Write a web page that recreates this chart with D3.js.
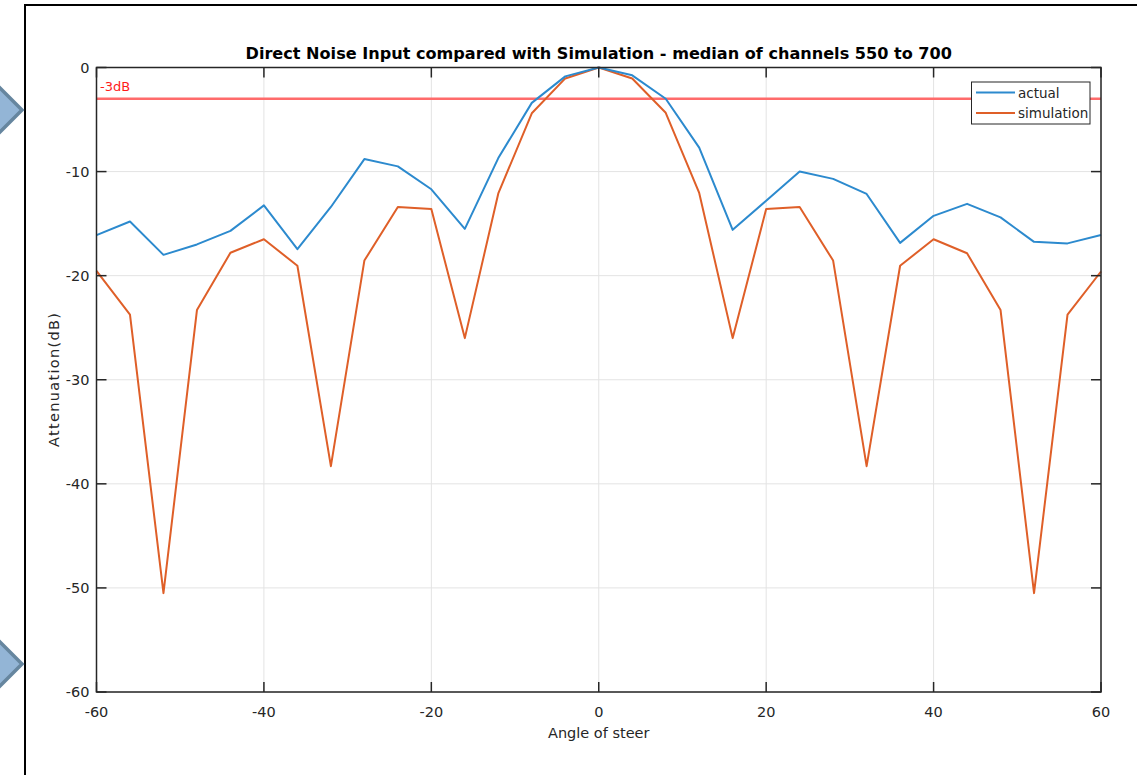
<!DOCTYPE html>
<html>
<head>
<meta charset="utf-8">
<script src="https://cdn.jsdelivr.net/npm/d3@7"></script>
<style>
  html, body { margin: 0; padding: 0; background: #fff; }
  svg { display: block; font-family: "DejaVu Sans", sans-serif; }
</style>
</head>
<body>
<svg id="chart" width="1137" height="775"></svg>
<script>
// steering angles (deg)
const angles = [-60, -56, -52, -48, -44, -40, -36, -32, -28, -24, -20, -16, -12, -8, -4, 0,
                4, 8, 12, 16, 20, 24, 28, 32, 36, 40, 44, 48, 52, 56, 60];
// measured attenuation (dB)
const actual = [-16.1, -14.8, -18.0, -17.0, -15.7, -13.25, -17.45, -13.4, -8.8, -9.5, -11.7, -15.5, -8.7, -3.4, -0.85, 0,
                -0.75, -3.0, -7.7, -15.6, -12.8, -10.0, -10.7, -12.15, -16.85, -14.25, -13.1, -14.4, -16.75, -16.9, -16.1];
// simulated attenuation (dB)
const simulation = [-19.55, -23.75, -50.5, -23.3, -17.8, -16.5, -19.05, -38.3, -18.55, -13.4, -13.6, -26.0, -12.1, -4.4, -1.05, 0,
                    -1.05, -4.35, -12.05, -26.0, -13.6, -13.4, -18.55, -38.3, -19.05, -16.5, -17.85, -23.3, -50.5, -23.75, -19.6];
const xTicks = [-60, -40, -20, 0, 20, 40, 60];
const yTicks = [0, -10, -20, -30, -40, -50, -60];
const refLevel = -3;

const svg = d3.select("#chart");
const pL = 96.5, pR = 1101, pT = 67.5, pB = 692;
const axisColor = "#262626";

// page frame + slide arrows
svg.append("path")
  .attr("d", `M25,775 V5 H1137`)
  .attr("fill", "none").attr("stroke", "#000").attr("stroke-width", 2);

[[110, 22], [664, 24]].forEach(([cy, r]) => {
  const cx = 22 - r;
  svg.append("polygon")
    .attr("points", `${cx},${cy - r} ${cx + r},${cy} ${cx},${cy + r} ${cx - r},${cy}`)
    .attr("fill", "#93b5d6").attr("stroke", "#66869f").attr("stroke-width", 3.5);
});

const x = d3.scaleLinear().domain([-60, 60]).range([pL, pR]);
const y = d3.scaleLinear().domain([-60, 0]).range([pB, pT]);

// grid
const grid = svg.append("g");
grid.selectAll("line.gx").data(xTicks).enter().append("line")
  .attr("x1", d => x(d)).attr("x2", d => x(d))
  .attr("y1", pT).attr("y2", pB)
  .attr("stroke", "#e3e3e3").attr("stroke-width", 1);
grid.selectAll("line.gy").data(yTicks).enter().append("line")
  .attr("x1", pL).attr("x2", pR)
  .attr("y1", d => y(d)).attr("y2", d => y(d))
  .attr("stroke", "#e3e3e3").attr("stroke-width", 1);

// -3 dB reference
svg.append("line")
  .attr("x1", pL).attr("x2", pR)
  .attr("y1", y(refLevel)).attr("y2", y(refLevel))
  .attr("stroke", "#ff6b6b").attr("stroke-width", 2.5);
svg.append("text")
  .attr("x", 100).attr("y", 91)
  .attr("fill", "#ff1a1a").style("font-size", "13px")
  .text("-3dB");

// series
const line = d3.line().x((d, i) => x(angles[i])).y(d => y(d));
svg.append("path").datum(simulation)
  .attr("d", line).attr("fill", "none")
  .attr("stroke", "#df5f28").attr("stroke-width", 2).attr("stroke-linejoin", "round");
svg.append("path").datum(actual)
  .attr("d", line).attr("fill", "none")
  .attr("stroke", "#2c8ace").attr("stroke-width", 2).attr("stroke-linejoin", "round");

// box + ticks
svg.append("rect")
  .attr("x", pL).attr("y", pT)
  .attr("width", pR - pL).attr("height", pB - pT)
  .attr("fill", "none").attr("stroke", axisColor).attr("stroke-width", 1.5);

const tl = 10;
const ticks = svg.append("g").attr("stroke", axisColor).attr("stroke-width", 1.5);
xTicks.forEach(t => {
  ticks.append("line").attr("x1", x(t)).attr("x2", x(t)).attr("y1", pB).attr("y2", pB - tl);
  ticks.append("line").attr("x1", x(t)).attr("x2", x(t)).attr("y1", pT).attr("y2", pT + tl);
});
yTicks.forEach(t => {
  ticks.append("line").attr("x1", pL).attr("x2", pL + tl).attr("y1", y(t)).attr("y2", y(t));
  ticks.append("line").attr("x1", pR).attr("x2", pR - tl).attr("y1", y(t)).attr("y2", y(t));
});

svg.selectAll("text.xt").data(xTicks).enter().append("text")
  .attr("class", "xt")
  .attr("x", d => x(d)).attr("y", 717)
  .attr("text-anchor", "middle").attr("fill", axisColor)
  .style("font-size", "14.5px").text(d => d);
svg.selectAll("text.yt").data(yTicks).enter().append("text")
  .attr("class", "yt")
  .attr("x", 89.5).attr("y", d => y(d) + 5)
  .attr("text-anchor", "end").attr("fill", axisColor)
  .style("font-size", "14.5px").text(d => d);

// labels
svg.append("text")
  .attr("x", x(0)).attr("y", 738)
  .attr("text-anchor", "middle").attr("fill", axisColor)
  .style("font-size", "14.5px").text("Angle of steer");
svg.append("text")
  .attr("transform", `translate(59, 380) rotate(-90)`)
  .attr("text-anchor", "middle").attr("fill", axisColor)
  .attr("textLength", 134).attr("lengthAdjust", "spacing")
  .style("font-size", "14.5px").text("Attenuation(dB)");
svg.append("text")
  .attr("x", x(0)).attr("y", 59)
  .attr("text-anchor", "middle").attr("fill", "#000")
  .style("font-size", "16.1px").style("font-weight", "bold")
  .text("Direct Noise Input compared with Simulation - median of channels 550 to 700");

// legend
const legend = svg.append("g");
legend.append("rect")
  .attr("x", 971.5).attr("y", 82).attr("width", 118.5).attr("height", 42)
  .attr("fill", "#fff").attr("stroke", axisColor).attr("stroke-width", 1);
[["actual", "#2c8ace"], ["simulation", "#df5f28"]].forEach(([name, c], i) => {
  const ly = 92.5 + i * 20.5;
  legend.append("line").attr("x1", 976).attr("x2", 1015).attr("y1", ly).attr("y2", ly)
    .attr("stroke", c).attr("stroke-width", 2);
  legend.append("text").attr("x", 1018).attr("y", ly + 5)
    .attr("fill", axisColor).style("font-size", "13.5px").text(name);
});
</script>
</body>
</html>
